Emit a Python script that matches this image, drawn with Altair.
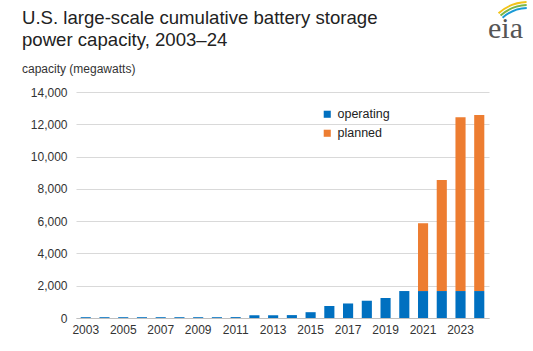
import altair as alt
import pandas as pd

years = list(range(2003, 2025))
operating = [50, 50, 50, 50, 50, 50, 50, 50, 55, 170, 170, 180, 360, 740, 900, 1070, 1240, 1670, 1670, 1670, 1670, 1670]
planned = [0] * 18 + [4200, 6880, 10760, 10910]
statuses = ["operating", "planned"]
colors = ["#0070c0", "#ed7d31"]
year_ticks = list(range(2003, 2025, 2))

rows = []
for y, o, p in zip(years, operating, planned):
    rows.append({"year": y, "status": "operating", "value": o, "ord": 0})
    rows.append({"year": y, "status": "planned", "value": p, "ord": 1})
df = pd.DataFrame(rows)

FONT = "Liberation Sans"

bars = alt.Chart(df).mark_bar().encode(
    x=alt.X("year:O", title=None,
            scale=alt.Scale(paddingInner=0.46, paddingOuter=0.25),
            axis=alt.Axis(values=year_ticks, labelAngle=0, ticks=False,
                          domainColor="#bfbfbf", labelFontSize=12,
                          labelColor="#333333", labelPadding=6, labelFont=FONT)),
    y=alt.Y("value:Q", title=None, stack="zero",
            scale=alt.Scale(domain=[0, 14000]),
            axis=alt.Axis(values=list(range(0, 14001, 2000)), format=",.0f",
                          domain=False, ticks=False, gridColor="#d9d9d9",
                          labelFontSize=12, labelColor="#333333",
                          labelPadding=9, labelFont=FONT)),
    color=alt.Color("status:N",
                    scale=alt.Scale(domain=statuses, range=colors),
                    legend=alt.Legend(title=None, orient="none", legendX=245,
                                      legendY=16, symbolType="square",
                                      symbolSize=50, labelFontSize=12.5,
                                      labelFont=FONT, labelColor="#222222",
                                      rowPadding=6, symbolStrokeWidth=0)),
    order=alt.Order("ord:Q", sort="ascending"),
)

title_df = pd.DataFrame({"t": ["U.S. large-scale cumulative battery storage",
                               "power capacity, 2003–24"],
                         "yy": [-68, -46]})
title = alt.Chart(title_df).mark_text(align="left", baseline="alphabetic",
                                      fontSize=18.6, font=FONT, color="#222222").encode(
    x=alt.value(-54), y=alt.Y("yy:Q", scale=None), text="t:N")

sub = alt.Chart(pd.DataFrame({"t": ["capacity (megawatts)"]})).mark_text(
    align="left", baseline="alphabetic", fontSize=12, font=FONT, color="#333333").encode(
    x=alt.value(-54), y=alt.value(-19), text="t:N")

logo = alt.Chart(pd.DataFrame({"t": ["eia"]})).mark_text(
    align="left", baseline="alphabetic", fontSize=30, font="Liberation Serif",
    color="#555555").encode(x=alt.value(412), y=alt.value(-54), text="t:N")

arc_df = pd.DataFrame({
    "c": ["#f2c318", "#7ab648", "#1a9ad6"],
    "r": [45, 42, 39],
    "r2": [43, 40, 37],
})
swoosh = alt.Chart(arc_df).mark_arc(theta=5.55, theta2=6.25).encode(
    x=alt.value(452), y=alt.value(-46),
    radius=alt.Radius("r:Q", scale=None), radius2=alt.Radius2("r2:Q"),
    color=alt.Color("c:N", scale=None),
)

chart = alt.layer(bars, title, sub, logo, swoosh).properties(
    width=413, height=226,
    autosize=alt.AutoSizeParams(type="none"),
    padding={"left": 76, "top": 92, "right": 44, "bottom": 33},
    background="white",
).configure_view(stroke=None)

chart.save("out.html", embed_options={"renderer": "svg", "actions": False})
